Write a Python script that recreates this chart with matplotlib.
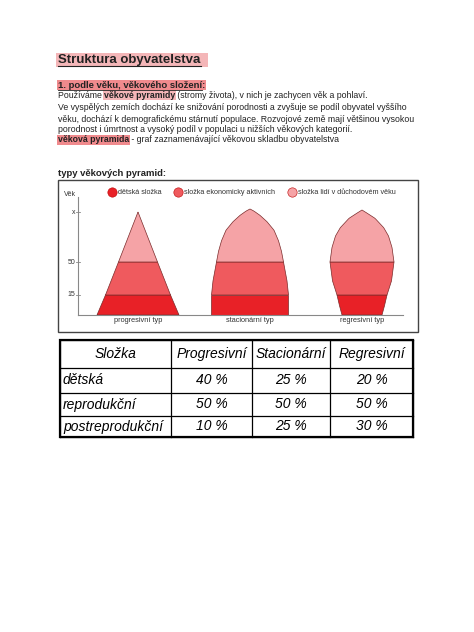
import matplotlib
matplotlib.use("Agg")
import matplotlib.pyplot as plt
import numpy as np
from matplotlib.patches import Rectangle, Polygon

plt.rcParams['font.family'] = ['Liberation Sans', 'DejaVu Sans']

# ---- data ----
table_header = ["Složka", "Progresivní", "Stacionární", "Regresivní"]
row_labels = ["dětská", "reprodukční", "postreprodukční"]
progresivni = [40, 50, 10]
stacionarni = [25, 50, 25]
regresivni = [20, 50, 30]
pyramid_names = ["progresivní typ", "stacionární typ", "regresivní typ"]
legend_labels = ["dětská složka", "složka ekonomicky aktivních", "složka lidí v důchodovém věku"]
age_ticks = ["x", "50", "15"]
# pyramid outlines: age level (0..100) and half-width
prog_lv = [0, 15, 50, 100]
prog_hw = [41, 32.5, 19.5, 0]
stac_lv = [0, 15, 30, 50, 60, 70, 80, 88, 94, 98, 100]
stac_hw = [38.5, 38.5, 37, 33.5, 31.5, 28.5, 24, 17, 10, 4, 0]
regr_lv = [0, 7, 15, 30, 50, 64, 75, 83, 92, 97, 100]
regr_hw = [20, 22.5, 25, 29.5, 32, 30, 26.5, 21.7, 13, 5, 0]
colors = ["#e82127", "#ef5a5e", "#f5a3a6"]

W, H = 474, 632
fig = plt.figure(figsize=(W/100, H/100), dpi=100)
ax = fig.add_axes([0, 0, 1, 1])
ax.set_xlim(0, W); ax.set_ylim(H, 0); ax.axis('off')
renderer = fig.canvas.get_renderer()

def chain(x, y, parts, fs):
    for txt, bold, hl in parts:
        t = ax.text(x, y, txt, fontsize=fs, weight='bold' if bold else 'normal', va='center', color="#222", zorder=3)
        w = t.get_window_extent(renderer).width
        if hl:
            ax.add_patch(Rectangle((x - 1, y - 5), w + 2, 10, color=hl, lw=0, zorder=1))
        x += w
    return x

# ---- text ----
ax.add_patch(Rectangle((56, 53), 152, 14, color="#f4b6b8", lw=0))
ax.text(58, 60, "Struktura obyvatelstva", fontsize=9.5, weight='bold', va='center', color="#222")
ax.plot([58, 201], [66, 66], color="#222", lw=0.8)
fs = 6.3
chain(58, 85, [("1. podle věku, věkového složení:", True, "#f08a8d")], 6.8)
ax.plot([58, 202], [89.5, 89.5], color="#222", lw=0.6)
chain(58, 95, [("Používáme ", False, None), ("věkové pyramidy", True, "#f4b6b8"),
               (" (stromy života), v nich je zachycen věk a pohlaví.", False, None)], fs)
chain(58, 107, [("Ve vyspělých zemích dochází ke snižování porodnosti a zvyšuje se podíl obyvatel vyššího", False, None)], fs)
chain(58, 119, [("věku, dochází k demografickému stárnutí populace. Rozvojové země mají většinou vysokou", False, None)], fs)
chain(58, 129, [("porodnost i úmrtnost a vysoký podíl v populaci u nižších věkových kategorií.", False, None)], fs)
chain(58, 140, [("věková pyramida", True, "#f08a8d"), (" - graf zaznamenávající věkovou skladbu obyvatelstva", False, None)], fs)
ax.text(58, 173, "typy věkových pyramid:", fontsize=6.8, weight='bold', va='center', color="#222")

# ---- diagram ----
ax.add_patch(Rectangle((58, 180), 360, 152, fill=False, ec="#444", lw=1))
lx = [112, 178, 292]
for x, lab, c in zip(lx, legend_labels, colors):
    ax.scatter([x], [192], s=45, color=c, edgecolor="#b00", lw=0.4, zorder=3)
    ax.text(x + 6, 192, lab, fontsize=5.2, va='center', color="#333")
ax.plot([78, 78], [197, 315], color="#888", lw=0.8)
ax.plot([78, 403], [315, 315], color="#888", lw=0.8)
ax.text(64, 194, "Věk", fontsize=5, va='center', color="#333")
tick_px = {"x": 212, "50": 262, "15": 295}
for t in age_ticks:
    ax.plot([76, 80], [tick_px[t]] * 2, color="#888", lw=0.6)
    ax.text(75, tick_px[t], t, fontsize=5, ha='right', va='center', color="#333")

def level_px(v, apex):
    if v <= 15:
        return 315 - v / 15 * 20
    if v <= 50:
        return 295 - (v - 15) / 35 * 33
    return 262 - (v - 50) / 50 * (262 - apex)

centers = [138, 250, 362]
apexes = [212, 209, 210]
profiles = [(prog_lv, prog_hw), (stac_lv, stac_hw), (regr_lv, regr_hw)]
for cx, ap, (lv, hw), name in zip(centers, apexes, profiles, pyramid_names):
    bands = [(0, 15), (15, 50), (50, 100)]
    for (a, b), c in zip(bands, colors):
        ys = np.linspace(a, b, 60)
        h = np.interp(ys, lv, hw)
        yy = np.array([level_px(v, ap) for v in ys])
        pts = np.concatenate([np.c_[cx - h, yy], np.c_[(cx + h)[::-1], yy[::-1]]])
        ax.add_patch(Polygon(pts, closed=True, fc=c, ec="#7a2a2a", lw=0.5))
    ax.text(cx, 321, name, fontsize=5.3, ha='center', va='center', color="#333")

# ---- table ----
cols = [60, 171, 252, 330, 413]
rows = [340, 368, 393, 416, 437]
for x in cols:
    ax.plot([x, x], [rows[0], rows[-1]], color="k", lw=0.9)
for y in rows:
    ax.plot([cols[0], cols[-1]], [y, y], color="k", lw=0.9)
ax.add_patch(Rectangle((cols[0], rows[0]), cols[-1] - cols[0], rows[-1] - rows[0], fill=False, ec="k", lw=1.6))
tfs = 10
for i, h in enumerate(table_header):
    ax.text((cols[i] + cols[i+1]) / 2, (rows[0] + rows[1]) / 2, h, fontsize=tfs, style='italic', ha='center', va='center')
vals = [progresivni, stacionarni, regresivni]
for r, lab in enumerate(row_labels):
    yc = (rows[r+1] + rows[r+2]) / 2
    ax.text(cols[0] + 3, yc, lab, fontsize=tfs, style='italic', va='center')
    for j in range(3):
        ax.text((cols[j+1] + cols[j+2]) / 2, yc, f"{vals[j][r]} %", fontsize=tfs, style='italic', ha='center', va='center')

fig.savefig("out.png", dpi=100, facecolor='white')
